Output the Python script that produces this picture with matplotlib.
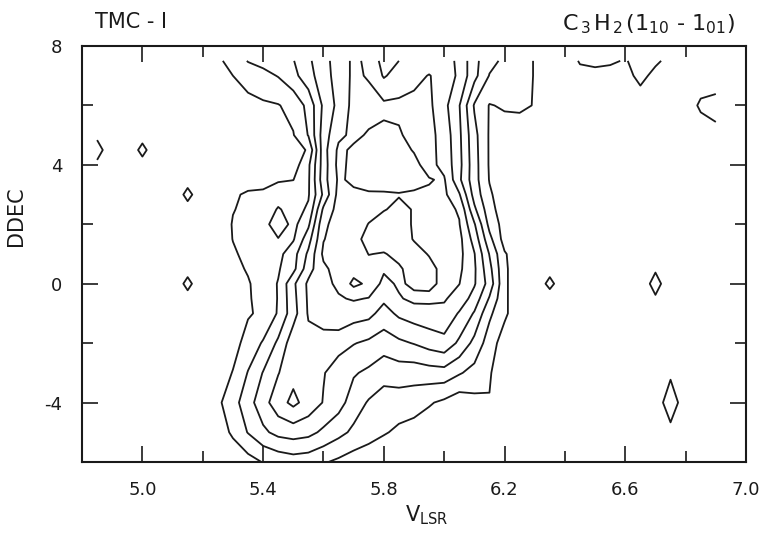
import matplotlib
matplotlib.use("Agg")
import matplotlib.pyplot as plt
import numpy as np

plt.rcParams["font.family"] = "DejaVu Sans"
plt.rcParams["mathtext.default"] = "regular"

# map grid: velocity channels (km/s) and declination offsets
vlsr = [4.85, 4.90, 4.95, 5.00, 5.05, 5.10, 5.15, 5.20, 5.25, 5.30, 5.35,
        5.40, 5.45, 5.50, 5.55, 5.60, 5.65, 5.70, 5.75, 5.80, 5.85, 5.90,
        5.95, 6.00, 6.05, 6.10, 6.15, 6.20, 6.25, 6.30, 6.35, 6.40, 6.45,
        6.50, 6.55, 6.60, 6.65, 6.70, 6.75, 6.80, 6.85, 6.90]
ddec = [-6, -5, -4, -3, -2, -1, -0.5, 0, 0.5, 1, 1.5, 2, 2.5, 3, 3.5, 4,
        4.5, 5, 6, 7, 7.5]

# line temperature per row, channels 5.15 ... 6.35
row_m6 = [0, 0, 0, 0.2, 0.6, 1.05, 1.3, 1.5, 1.4, 1.1, 0.8, 0.5, 0.3, 0.1, 0, 0, 0, 0, 0, 0, 0, 0, 0, 0, 0]
row_m5 = [0, 0, 0.4, 1.2, 2.05, 2.8, 3.3, 3.46, 3.3, 2.8, 2.3, 1.8, 1.45, 1.1, 0.8, 0.6, 0.4, 0.2, 0.1, 0, 0, 0, 0, 0, 0]
row_m4 = [0, 0.2, 0.8, 1.6, 2.6, 3.6, 4.6, 5.25, 4.6, 3.95, 3.4, 2.5, 1.9, 1.59, 1.5, 1.42, 1.1, 0.8, 0.4, 0.7, 0.95, 0.2, 0, 0, 0]
row_m3 = [0, 0, 0.4, 1.05, 2.05, 3.05, 3.95, 4.7, 4.5, 4.05, 3.6, 3.1, 2.8, 2.33, 2.5, 2.43, 2.55, 2.6, 2.1, 1.67, 1.1, 0.3, 0, 0, 0]
row_m2 = [0, 0, 0, 0.6, 1.4, 2.1, 3.2, 4.6, 4.7, 4.5, 4.3, 4.05, 3.8, 3.5, 3.8, 4.05, 4.4, 4.67, 3.8, 2.7, 1.5, 0.5, 0, 0, 0]
row_m1 = [0, 0, 0.1, 0.4, 0.9, 1.2, 2.1, 3.6, 5.1, 5.6, 5.9, 5.45, 5.3, 4.6, 5.2, 5.5, 5.65, 5.73, 4.9, 3.9, 2.2, 1.2, 0.3, 0, 0]
row_m05 = [0.5, 0, 0.15, 0.45, 0.9, 1.35, 2.05, 3.7, 5.15, 5.65, 5.9, 6.1, 5.95, 5.2, 5.9, 6.25, 6.2, 6.1, 5.6, 4.6, 2.9, 1.2, 0.3, 0, 0.3]
row_0 = [1.4, 0, 0.2, 0.5, 0.9, 1.5, 2.05, 3.8, 5.2, 5.7, 6.2, 7.25, 6.8, 5.7, 6.15, 5.8, 5.8, 6.2, 6.02, 5.1, 3.6, 1.2, 0.3, 0, 1.4]
row_p05 = [0.5, 0.05, 0.35, 0.7, 1.1, 1.5, 1.9, 2.7, 4.6, 5.8, 6.4, 6.6, 6.3, 6.15, 6.1, 5.7, 5.75, 6.25, 6.2, 5.15, 3.3, 1.2, 0.3, 0, 0.5]
row_p1 = [0, 0.1, 0.5, 0.9, 1.2, 1.5, 1.7, 2.6, 4.2, 6.2, 6.6, 6.5, 5.98, 6.05, 5.8, 5.7, 6.05, 6.4, 6.3, 5.05, 2.95, 1.1, 0.4, 0.1, 0]
row_p15 = [0, 0.1, 0.5, 1.02, 1.2, 1.55, 1.95, 1.9, 3.6, 5.95, 6.5, 6.2, 5.8, 5.6, 5.6, 6.05, 6.3, 6.45, 6.3, 4.6, 2.3, 0.6, 0.2, 0.05, 0]
row_p2 = [0, 0.1, 0.5, 1.05, 1.2, 1.6, 2.6, 1.7, 2.8, 5.8, 6.4, 6.3, 5.98, 5.6, 5.6, 6.1, 6.35, 6.4, 6.05, 4.1, 1.7, 0.6, 0.3, 0.1, 0]
row_p25 = [0.5, 0.1, 0.45, 0.97, 1.15, 1.3, 2.1, 1.6, 2.15, 5.2, 6.4, 6.35, 6.2, 6.05, 5.8, 6.05, 6.3, 6.3, 5.9, 3.2, 1.4, 0.4, 0.2, 0.05, 0]
row_p3 = [1.4, 0.1, 0.4, 0.9, 1.1, 1.15, 1.5, 1.6, 1.9, 4.2, 6.35, 6.2, 6.1, 6.1, 6.05, 6.1, 6.1, 6.2, 5.1, 2.6, 1.15, 0.4, 0.2, 0.05, 0]
row_p35 = [0.5, 0, 0.2, 0.55, 0.7, 0.72, 0.9, 0.98, 1.85, 4.6, 6.15, 5.8, 5.65, 5.6, 5.6, 5.75, 5.95, 6.1, 4.2, 2.4, 0.95, 0.45, 0.25, 0.05, 0]
row_p4 = [0, 0, 0, 0.2, 0.3, 0.3, 0.3, 0.5, 1.8, 4.5, 6.3, 5.7, 5.5, 5.5, 5.6, 5.8, 6.3, 5.7, 4.3, 2.4, 0.9, 0.5, 0.3, 0.1, 0]
row_p45 = [0, 0, 0.05, 0.25, 0.4, 0.5, 0.55, 0.6, 1.1, 4.6, 6.2, 5.85, 5.7, 5.65, 5.75, 6.05, 6.3, 5.65, 4.25, 2.35, 0.9, 0.55, 0.35, 0.15, 0]
row_p5 = [0, 0, 0.1, 0.3, 0.5, 0.7, 0.85, 0.95, 2.05, 4.5, 5.8, 6.2, 5.9, 5.8, 5.9, 6.3, 6.3, 5.6, 4.2, 2.3, 0.9, 0.6, 0.4, 0.2, 0]
row_p6 = [0, 0.1, 0.3, 0.5, 0.7, 0.85, 0.95, 1.3, 2.3, 4.2, 5.3, 6.3, 6.4, 6.2, 6.2, 6.3, 6.2, 5.3, 4.05, 1.9, 0.95, 1.1, 1.2, 0.95, 0.4]
row_p7 = [0, 0.2, 0.6, 1.0, 1.4, 1.7, 2.05, 2.7, 3.6, 4.6, 5.4, 6.2, 5.9, 4.9, 5.4, 5.7, 6.05, 5.6, 4.8, 3.3, 1.95, 1.7, 1.4, 0.95, 0.5]
row_p75 = [0, 0.3, 0.8, 1.4, 2.05, 2.3, 2.6, 2.95, 3.8, 4.7, 5.4, 6.2, 5.8, 4.6, 5.0, 5.4, 5.5, 5.4, 4.8, 3.3, 2.3, 1.8, 1.4, 0.95, 0.5]

# isolated noise peaks outside the main cloud
blip_v = [4.85, 4.85, 4.85, 5.00, 5.00, 5.00, 6.70, 6.70, 6.70,
          6.75, 6.75, 6.75,
          6.45, 6.50, 6.55, 6.60, 6.65, 6.70, 6.75,
          6.45, 6.50, 6.55, 6.60, 6.65, 6.70,
          6.85, 6.90, 6.90, 6.90]
blip_d = [4.5, 4, 5, 4.5, 4, 5, 0, 0.5, -0.5,
          -4, -3, -5,
          7.5, 7.5, 7.5, 7.5, 7.5, 7.5, 7.5,
          7, 7, 7, 7, 7, 7,
          6, 6, 5, 7]
blip_t = [1.6, 0.7, 0.7, 1.4, 0.5, 0.5, 1.6, 0.8, 0.8,
          2.0, 0.7, 0.5,
          1.15, 1.3, 1.2, 0.9, 1.5, 1.3, 0.5,
          0.5, 0.6, 0.5, 0.4, 1.5, 0.5,
          1.3, 1.5, 0.6, 0.2]

levels = [1, 2, 3, 4, 5, 6, 7]

rows = [row_m6, row_m5, row_m4, row_m3, row_m2, row_m1, row_m05, row_0,
        row_p05, row_p1, row_p15, row_p2, row_p25, row_p3, row_p35, row_p4,
        row_p45, row_p5, row_p6, row_p7, row_p75]
tmb = np.zeros((len(ddec), len(vlsr)))
start = vlsr.index(5.15)
for i, row in enumerate(rows):
    tmb[i, start:start + len(row)] = row
for v, d, t in zip(blip_v, blip_d, blip_t):
    tmb[ddec.index(d), vlsr.index(v)] = t

fig = plt.figure(figsize=(7.63, 5.47), dpi=100)
ax = fig.add_axes([0.1075, 0.1554, 0.8702, 0.7605])

ax.contour(vlsr, ddec, tmb, levels=levels, colors="#1a1a1a", linewidths=1.3)

ax.set_xlim(4.8, 7.0)
ax.set_ylim(-6, 8)
ax.set_xticks([5.0, 5.4, 5.8, 6.2, 6.6, 7.0])
ax.set_xticklabels(["5.0", "5.4", "5.8", "6.2", "6.6", "7.0"])
ax.set_xticks([5.2, 5.6, 6.0, 6.4, 6.8], minor=True)
ax.set_yticks([-4, 0, 4, 8])
ax.set_yticklabels(["-4", "0", "4", "8"])
ax.set_yticks([-2, 2, 6], minor=True)
ax.tick_params(which="both", direction="in", top=True, right=True,
               width=1.2, colors="#1a1a1a", labelsize=13)
ax.tick_params(which="major", length=11.5, pad=14)
ax.tick_params(which="minor", length=8)
for s in ax.spines.values():
    s.set_linewidth(1.5)
    s.set_color("#1a1a1a")

ax.set_xlabel("V$_{LSR}$", fontsize=15, color="#1a1a1a")
ax.xaxis.set_label_coords(0.52, -0.10)
ax.set_ylabel("DDEC", fontsize=15, color="#1a1a1a")
ax.yaxis.set_label_coords(-0.085, 0.59)

fig.text(95 / 763, 1 - 22 / 547, "TMC - I", fontsize=15, va="center",
         color="#1a1a1a")
fig.text(735 / 763, 1 - 24 / 547, r"C$_{\,3\,}$H$_{\,2\,}$(1$_{10}$ - 1$_{01}$)",
         fontsize=16, va="center", ha="right", color="#1a1a1a")

plt.savefig("out.png", dpi=100)
